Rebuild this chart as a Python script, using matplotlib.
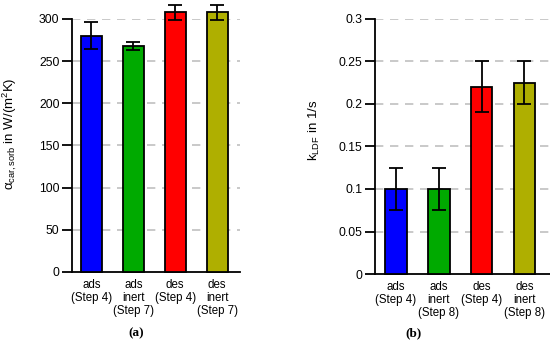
import numpy as np
import matplotlib.pyplot as plt

plt.rcParams['font.family'] = ['Liberation Sans', 'DejaVu Sans']
plt.rcParams['mathtext.fontset'] = 'custom'
plt.rcParams['mathtext.rm'] = 'Liberation Sans'
plt.rcParams['mathtext.it'] = 'Liberation Sans:italic'

# Daten
labels_a = ["ads\n(Step 4)", "ads\ninert\n(Step 7)", "des\n(Step 4)", "des\ninert\n(Step 7)"]
alpha_vals = [280, 268, 308, 308]
alpha_err = [16, 5, 9, 9]

labels_b = ["ads\n(Step 4)", "ads\ninert\n(Step 8)", "des\n(Step 4)", "des\ninert\n(Step 8)"]
k_vals = [0.1, 0.1, 0.22, 0.225]
k_err = [0.025, 0.025, 0.03, 0.025]

farben = ["#0000ff", "#00aa00", "#ff0000", "#afaf00"]

fig = plt.figure(figsize=(5.5, 3.43), dpi=100)
ax1 = fig.add_axes([0.131, 0.207, 0.305, 0.738])
ax2 = fig.add_axes([0.682, 0.201, 0.318, 0.744])


def panel(ax, werte, fehler, labels, yticks, ylabel, xlim):
    x = np.arange(len(werte))
    ax.bar(x, werte, width=0.5, color=farben, edgecolor="black", linewidth=1.3,
           zorder=3, clip_on=False)
    ax.errorbar(x, werte, yerr=fehler, fmt="none", ecolor="black", elinewidth=1.3,
                capsize=4.7, capthick=1.3, zorder=4, clip_on=False)
    ax.set_xlim(xlim)
    ax.set_ylim(yticks[0], yticks[-1])
    ax.set_yticks(yticks)
    for t in yticks[1:]:
        ax.axhline(t, color="#c0c0c0", linestyle=(0, (5, 4)), linewidth=1.2, zorder=1)
    ax.set_xticks(x)
    ax.set_xticklabels(labels, fontsize=8.3, linespacing=1.12)
    ax.tick_params(axis="x", length=0, pad=5)
    ax.tick_params(axis="y", direction="out", length=7, width=1.3, labelsize=8.8, pad=2)
    for s in ["top", "right"]:
        ax.spines[s].set_visible(False)
    ax.spines["left"].set_linewidth(1.3)
    ax.spines["bottom"].set_linewidth(1.3)
    ax.set_ylabel(ylabel, fontsize=9.5)


panel(ax1, alpha_vals, alpha_err, labels_a, [0, 50, 100, 150, 200, 250, 300],
      "α$_{\\mathrm{car,sorb}}$ in W/(m$^2$K)", (-0.46, 3.54))
ax1.set_yticklabels(["0", "50", "100", "150", "200", "250", "300"])
ax1.yaxis.set_label_coords(-53 / 168, (272 - 134) / 253)

panel(ax2, k_vals, k_err, labels_b, [0, 0.05, 0.1, 0.15, 0.2, 0.25, 0.3],
      "k$_{\\mathrm{LDF}}$ in 1/s", (-0.49, 3.6))
ax2.set_yticklabels(["0", "0.05", "0.1", "0.15", "0.2", "0.25", "0.3"])
ax2.yaxis.set_label_coords(-53 / 175, (274 - 130) / 255)

fig.text(136 / 550, 1 - 333 / 343, "(a)", ha="center", va="center",
         family="Liberation Serif", fontweight="bold", fontsize=9.5)
fig.text(413 / 550, 1 - 333 / 343, "(b)", ha="center", va="center",
         family="Liberation Serif", fontweight="bold", fontsize=9.5)

fig.savefig("out.png", dpi=100)
